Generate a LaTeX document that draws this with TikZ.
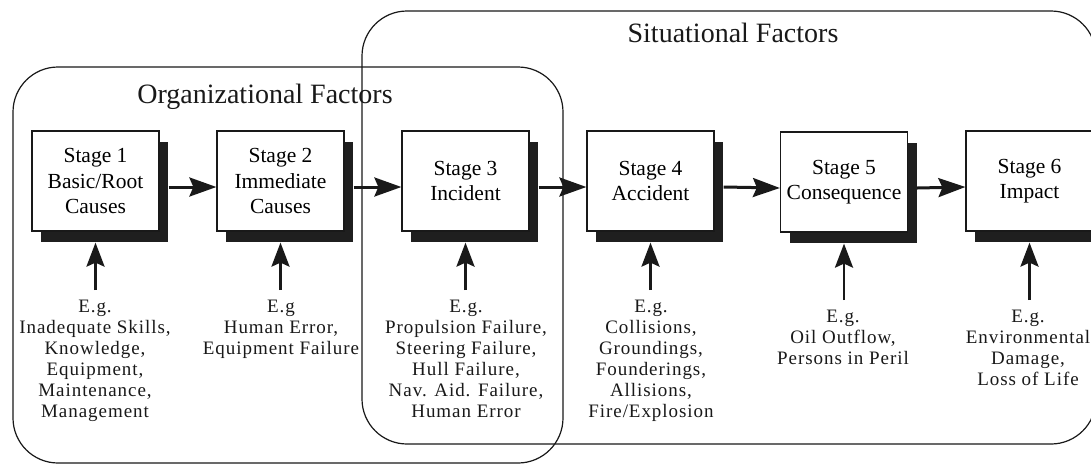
\documentclass[tikz,border=0pt]{standalone}
\usepackage{fontspec}
\setmainfont{Liberation Serif}
\newfontfamily\egfont[LetterSpace=5]{Liberation Serif}
\usetikzlibrary{arrows.meta,shadows}
\tikzset{
  frame/.style={draw=black!90, line width=1.2pt, rounded corners=45pt},
  stagebox/.style={draw=black!90, fill=white, line width=1.2pt, minimum width=127pt, minimum height=100pt, inner sep=0pt, align=center,
    font=\fontsize{21.5}{25.5}\selectfont,
    drop shadow={shadow xshift=9pt, shadow yshift=-11pt, fill=black!88, opacity=1}},
  egtext/.style={anchor=north, inner sep=0pt, align=center, font=\egfont\fontsize{19}{21}\selectfont, text=black!90},
  title/.style={font=\fontsize{28}{30}\selectfont, text=black!90},
  harrow/.style={draw=black!90, line width=3pt, -{Stealth[length=27pt,width=19pt,inset=4pt]}},
  varrow/.style={draw=black!90, line width=2.8pt, -{Stealth[length=24pt,width=18pt,inset=4pt]}}
}
\begin{document}
\begin{tikzpicture}[x=1pt,y=-1pt]
\useasboundingbox (0,0) rectangle (1091,467);
\clip (0,0) rectangle (1091,467);
\fill[white] (0,0) rectangle (1091,467);
% frames
\draw[frame] (13,67) rectangle (563,463);
\draw[frame] (362,11) rectangle (1096,444);
\node[title] (orgt) at (265,97) {Organizational Factors};
\node[title] (sitt) at (733,33) {Situational Factors};
% stage boxes
\node[stagebox] (s1) at (95.5,181) {Stage 1\\Basic/Root\\Causes};
\node[stagebox] (s2) at (280.5,181) {Stage 2\\Immediate\\Causes};
\node[stagebox] (s3) at (465.5,181) {Stage 3\\Incident};
\node[stagebox] (s4) at (650.5,181) {Stage 4\\Accident};
\node[stagebox] (s5) at (844,182) {Stage 5\\Consequence};
\node[stagebox] (s6) at (1029.5,181) {Stage 6\\Impact};
% horizontal arrows
\foreach \a/\b in {s1/s2,s2/s3,s3/s4,s4/s5,s5/s6}
  \draw[harrow] ([xshift=9pt,yshift=-6pt]\a.east) -- ([yshift=-6pt]\b.west);
% example texts
\node[egtext] (t1) at (95,300) {E.g.\\Inadequate Skills,\\Knowledge,\\Equipment,\\Maintenance,\\Management};
\node[egtext] (t2) at (281,300) {E.g\\Human Error,\\Equipment Failure};
\node[egtext] (t3) at (466,300) {E.g.\\Propulsion Failure,\\Steering Failure,\\Hull Failure,\\Nav. Aid. Failure,\\Human Error};
\node[egtext] (t4) at (651,300) {E.g.\\Collisions,\\Groundings,\\Founderings,\\Allisions,\\Fire/Explosion};
\node[egtext] (t5) at (843,310) {E.g.\\Oil Outflow,\\Persons in Peril};
\node[egtext] (t6) at (1028,310) {E.g.\\Environmental\\Damage,\\Loss of Life};
% vertical arrows
\foreach \t/\s in {t1/s1,t2/s2,t3/s3,t4/s4,t5/s5,t6/s6}
  \draw[varrow] ([yshift=10pt]\t.north -| \s.south) -- ([yshift=-11pt]\s.south);
\end{tikzpicture}
\end{document}
